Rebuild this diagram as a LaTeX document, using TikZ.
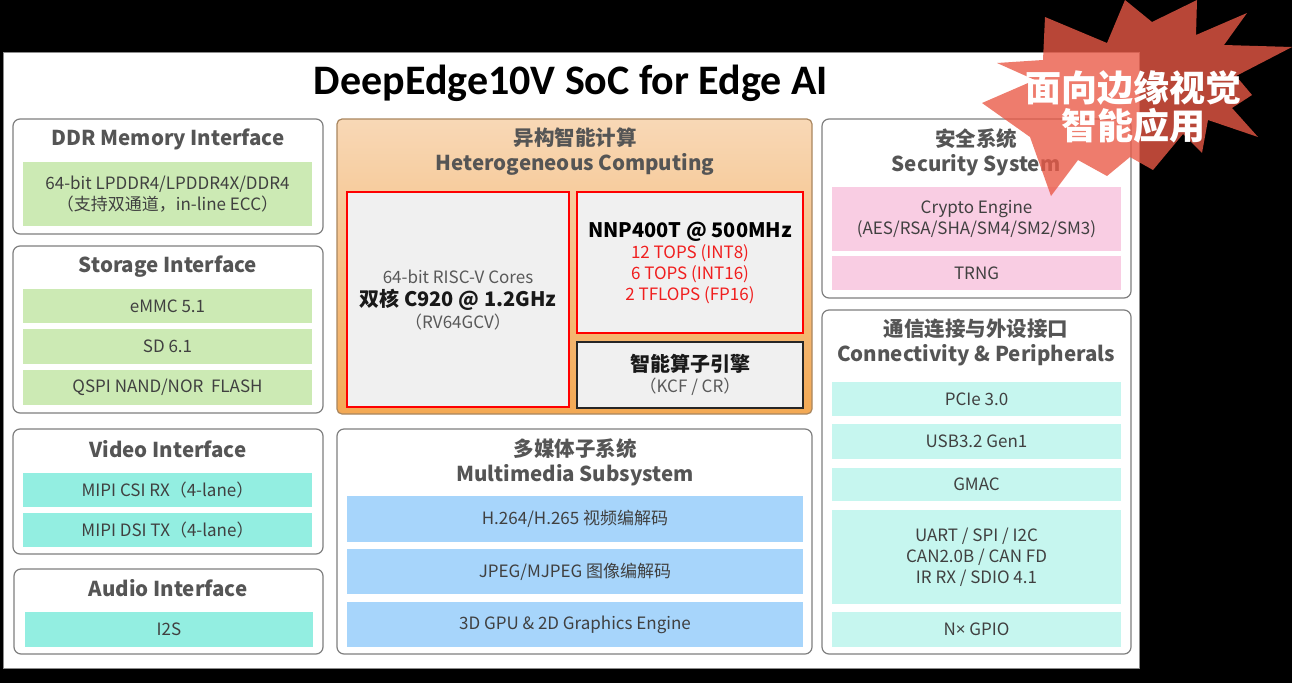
\documentclass[tikz,border=0pt]{standalone}
\usepackage{fontspec}
\setmainfont{Noto Sans CJK SC}
\newfontfamily\titlefont{Carlito}
\newfontfamily\latinsans{Noto Sans}
\definecolor{boxgray}{HTML}{7F7F7F}
\definecolor{hdrgray}{HTML}{555555}
\definecolor{txtgray}{HTML}{404040}
\definecolor{rowgreen}{HTML}{CCEAB4}
\definecolor{rowturq}{HTML}{93EEE1}
\definecolor{rowcyan}{HTML}{C6F6EF}
\definecolor{rowpink}{HTML}{F9CDE3}
\definecolor{rowblue}{HTML}{A7D5FB}
\definecolor{orangetop}{HTML}{F8D8B6}
\definecolor{orangebot}{HTML}{F3A954}
\definecolor{orangeedge}{HTML}{A9865F}
\definecolor{corefill}{HTML}{F0F0F0}
\definecolor{redtxt}{HTML}{F01E1E}
\definecolor{starred}{RGB}{234,89,70}
\newcommand{\bx}[7]{\node[#6, inner sep=0pt, outer sep=0pt, minimum width={(#4-#2)*1pt}, minimum height={(#5-#3)*1pt}] (#1) at ({(#2+#4)/2},{(#3+#5)/2}) {#7};}
\begin{document}
\begin{tikzpicture}[x=1pt,y=-1pt,
  panel/.style={draw=boxgray, line width=1.2pt, rounded corners=7pt, fill=white},
  rowbox/.style={fill=#1, text=txtgray, align=center, font=\fontsize{17}{21}\selectfont},
  hdr/.style={text=hdrgray, align=center, font=\fontsize{20.5}{25}\selectfont\bfseries},
  corebox/.style={fill=corefill, draw=red, line width=2.6pt},
  kcfbox/.style={fill=corefill, draw=black!85, line width=2.2pt},
  txt/.style={text=txtgray, align=center, font=\fontsize{17}{21}\selectfont}]
\useasboundingbox (0,0) rectangle (1292,683);
\fill[black] (0,0) rectangle (1292,683);
\bx{slide}{3}{52}{1139}{668}{fill=white, draw=black!45, line width=0.8pt}{}
\node[font=\titlefont\fontsize{42}{44}\selectfont\bfseries, text=black] (title) at (571,83) {DeepEdge10V SoC for Edge AI};

% left column
\bx{ddr}{13}{119}{323}{234}{panel}{}
\node[hdr] (ddrh) at (168,139) {DDR Memory Interface};
\bx{ddr1}{23}{162}{312}{226}{rowbox=rowgreen}{64-bit LPDDR4/LPDDR4X/DDR4\\（支持双通道，in-line ECC）}

\bx{sto}{13}{246}{323}{413}{panel}{}
\node[hdr] (stoh) at (168,267) {Storage Interface};
\bx{sto1}{23}{289}{312}{323}{rowbox=rowgreen}{eMMC 5.1}
\bx{sto2}{23}{329}{312}{364}{rowbox=rowgreen}{SD 6.1}
\bx{sto3}{23}{370}{312}{405}{rowbox=rowgreen}{QSPI NAND/NOR\ \ FLASH}

\bx{vid}{13}{429}{323}{554}{panel}{}
\node[hdr] (vidh) at (168,449) {Video Interface};
\bx{vid1}{23}{473}{312}{507}{rowbox=rowturq}{MIPI CSI RX（4-lane）}
\bx{vid2}{23}{513}{312}{547}{rowbox=rowturq}{MIPI DSI TX（4-lane）}

\bx{aud}{14}{569}{323}{654}{panel}{}
\node[hdr] (audh) at (168,588) {Audio Interface};
\bx{aud1}{25}{612}{313}{647}{rowbox=rowturq}{I2S}

% middle column
\bx{het}{337}{119}{812}{414}{draw=orangeedge, line width=1.2pt, rounded corners=5pt, top color=orangetop, bottom color=orangebot}{}
\node[hdr] (heth) at (575,152) {异构智能计算\\Heterogeneous Computing};
\bx{cpu}{347}{192}{569}{407}{corebox}{}
\node[txt, text=black!65] (cput) at (458,300) {64-bit RISC-V Cores\\[2pt]{\fontsize{20}{24}\selectfont\bfseries\color{black!90}双核 C920 @ 1.2GHz}\\[1pt]（RV64GCV）};
\bx{npu}{577}{192}{803}{333}{corebox}{}
\node[txt, text=redtxt] (nput) at (690,263) {{\fontsize{20}{24}\selectfont\bfseries\color{black}NNP400T @ 500MHz}\\[0pt]12 TOPS (INT8)\\6 TOPS (INT16)\\2 TFLOPS (FP16)};
\bx{kcf}{577}{342}{803}{408}{kcfbox}{}
\node[txt, text=black!65] (kcft) at (690,375) {{\fontsize{20}{24}\selectfont\bfseries\color{black!90}智能算子引擎}\\（KCF / CR）};

\bx{mm}{337}{429}{812}{654}{panel}{}
\node[hdr] (mmh) at (575,462) {多媒体子系统\\Multimedia Subsystem};
\bx{mm1}{347}{496}{803}{542}{rowbox=rowblue}{H.264/H.265 视频编解码}
\bx{mm2}{347}{549}{803}{594}{rowbox=rowblue}{JPEG/MJPEG 图像编解码}
\bx{mm3}{347}{602}{803}{647}{rowbox=rowblue}{3D GPU \& 2D Graphics Engine}

% right column
\bx{sec}{822}{119}{1131}{298}{panel}{}
\node[hdr] (sech) at (976,152) {安全系统\\Security System};
\bx{sec1}{832}{187}{1121}{251}{rowbox=rowpink}{Crypto Engine\\(AES/RSA/SHA/SM4/SM2/SM3)}
\bx{sec2}{832}{256}{1121}{290}{rowbox=rowpink}{TRNG}

\bx{con}{822}{310}{1131}{654}{panel}{}
\node[hdr] (conh) at (976,342) {通信连接与外设接口\\Connectivity \& Peripherals};
\bx{con1}{832}{382}{1121}{416}{rowbox=rowcyan}{PCIe 3.0}
\bx{con2}{832}{424}{1121}{459}{rowbox=rowcyan}{USB3.2 Gen1}
\bx{con3}{832}{468}{1121}{501}{rowbox=rowcyan}{GMAC}
\bx{con4}{832}{510}{1121}{604}{rowbox=rowcyan}{UART / SPI / I2C\\CAN2.0B / CAN FD\\IR RX / SDIO 4.1}
\bx{con5}{832}{612}{1121}{647}{rowbox=rowcyan}{N{\latinsans ×} GPIO}

% starburst
\fill[starred, fill opacity=0.79]
 (1045,17) -- (1107,43) -- (1125,0) -- (1152,22) -- (1197,0) -- (1196,35) --
 (1247,13) -- (1224,45) -- (1292,47) -- (1236,76) -- (1252,95) -- (1232,108) --
 (1258,137) -- (1208,120) -- (1202,153) -- (1183,134) -- (1153,170) -- (1130,157) --
 (1107,176) -- (1078,160) -- (1051,196) -- (1030,137) -- (982,103) -- (1035,80) --
 (997,63) -- (1043,60) -- cycle;
\node[text=white, align=center, font=\fontsize{36}{38}\selectfont\bfseries] (startxt) at (1133,107) {面向边缘视觉\\智能应用};
\end{tikzpicture}
\end{document}
